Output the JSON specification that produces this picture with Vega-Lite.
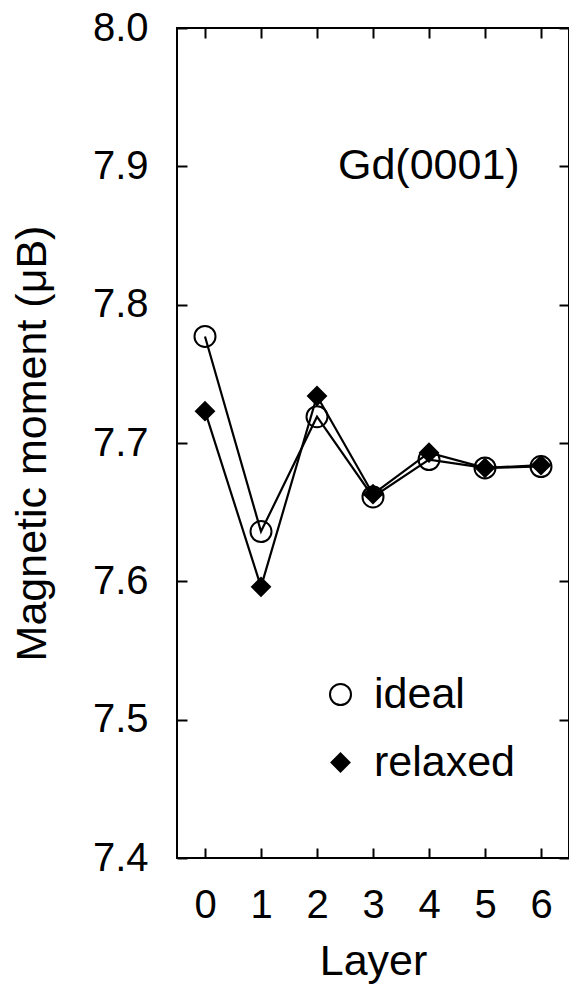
{
  "$schema": "https://vega.github.io/schema/vega-lite/v6.json",
  "width": 392,
  "height": 830,
  "autosize": "none",
  "padding": {"left": 177, "top": 28, "right": 0, "bottom": 134},
  "background": "white",
  "config": {
    "font": "Liberation Sans",
    "view": {"stroke": "black", "strokeWidth": 2},
    "axis": {"grid": false, "domain": false, "tickColor": "black", "tickWidth": 2, "tickSize": -10, "labelColor": "black", "titleColor": "black", "titleFontWeight": "normal"},
    "legend": {"title": null, "orient": "none", "legendX": 142, "legendY": 645, "labelFontSize": 43, "labelColor": "black", "labelOffset": 12, "rowPadding": 24, "padding": 0, "symbolStrokeWidth": 2}
  },
  "datasets": {
    "moments": [
      {"layer": 0, "moment": 7.777, "series": "ideal"},
      {"layer": 1, "moment": 7.636, "series": "ideal"},
      {"layer": 2, "moment": 7.719, "series": "ideal"},
      {"layer": 3, "moment": 7.661, "series": "ideal"},
      {"layer": 4, "moment": 7.688, "series": "ideal"},
      {"layer": 5, "moment": 7.682, "series": "ideal"},
      {"layer": 6, "moment": 7.683, "series": "ideal"},
      {"layer": 0, "moment": 7.723, "series": "relaxed"},
      {"layer": 1, "moment": 7.596, "series": "relaxed"},
      {"layer": 2, "moment": 7.734, "series": "relaxed"},
      {"layer": 3, "moment": 7.663, "series": "relaxed"},
      {"layer": 4, "moment": 7.693, "series": "relaxed"},
      {"layer": 5, "moment": 7.682, "series": "relaxed"},
      {"layer": 6, "moment": 7.684, "series": "relaxed"}
    ]
  },
  "data": {"name": "moments"},
  "layer": [
    {
      "mark": {"type": "line", "stroke": "black", "strokeWidth": 2.2},
      "encoding": {
        "x": {"field": "layer", "type": "quantitative", "scale": {"domain": [-0.5, 6.5], "nice": false, "zero": false},
              "axis": {"orient": "bottom", "values": [0, 1, 2, 3, 4, 5, 6], "format": "d", "title": "Layer", "labelFontSize": 40, "labelPadding": 37, "titleFontSize": 43, "titlePadding": 15}},
        "y": {"field": "moment", "type": "quantitative", "scale": {"domain": [7.4, 8.0], "nice": false, "zero": false},
              "axis": {"orient": "left", "values": [7.4, 7.5, 7.6, 7.7, 7.8, 7.9, 8.0], "format": ".1f", "title": "Magnetic moment (μB)", "labelFontSize": 40, "labelPadding": 39, "titleFontSize": 43, "titlePadding": 38}},
        "detail": {"field": "series", "type": "nominal"}
      }
    },
    {
      "mark": {"type": "point", "strokeWidth": 2, "opacity": 1},
      "encoding": {
        "x": {"field": "layer", "type": "quantitative", "axis": null},
        "y": {"field": "moment", "type": "quantitative", "axis": null},
        "shape": {"field": "series", "type": "nominal", "scale": {"domain": ["ideal", "relaxed"], "range": ["circle", "diamond"]}},
        "fill": {"field": "series", "type": "nominal", "scale": {"domain": ["ideal", "relaxed"], "range": ["transparent", "black"]}},
        "stroke": {"field": "series", "type": "nominal", "scale": {"domain": ["ideal", "relaxed"], "range": ["black", "black"]}},
        "size": {"field": "series", "type": "nominal", "scale": {"domain": ["ideal", "relaxed"], "range": [441, 324]}}
      }
    },
    {
      "data": {"values": [{"label": "Gd(0001)"}]},
      "mark": {"type": "text", "align": "left", "baseline": "middle", "fontSize": 43, "color": "black"},
      "encoding": {
        "text": {"field": "label"},
        "x": {"datum": 2.375, "type": "quantitative", "axis": {"orient": "top", "values": [0, 1, 2, 3, 4, 5, 6], "labels": false, "title": null}},
        "y": {"datum": 7.9, "type": "quantitative", "axis": {"orient": "right", "values": [7.4, 7.5, 7.6, 7.7, 7.8, 7.9, 8.0], "labels": false, "title": null}}
      }
    }
  ],
  "resolve": {"axis": {"x": "independent", "y": "independent"}}
}
